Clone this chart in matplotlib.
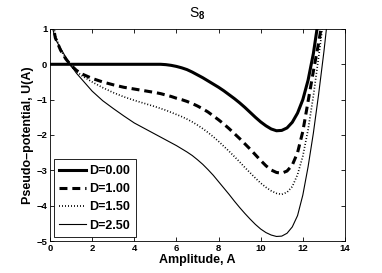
import numpy as np
from matplotlib import pyplot as plt

# Pseudo-potential curves U(A) for several values of D (panel S_8)

amplitude = [0, 0.25, 0.5, 0.75, 1.0, 1.25, 1.5, 2, 2.5, 3, 3.5, 4, 4.5,
             5, 5.25, 5.5, 5.75, 6, 6.25, 6.5, 6.75, 7, 7.25, 7.5, 7.75,
             8, 8.25, 8.5, 8.75, 9, 9.25, 9.5, 9.75, 10, 10.25, 10.5, 10.75,
             11, 11.25, 11.5, 11.75, 12, 12.25, 12.5, 12.75, 13, 13.25]

u_d000 = [0, 0, 0, 0, 0, 0, 0, 0, 0, 0, 0, 0, 0,
          0, 0, -0.01, -0.03, -0.06, -0.1, -0.15, -0.22, -0.3, -0.38, -0.47, -0.56,
          -0.65, -0.75, -0.86, -0.97, -1.09, -1.22, -1.36, -1.5, -1.63, -1.74, -1.83, -1.88,
          -1.87, -1.8, -1.64, -1.38, -1.0, -0.45, 0.3, 1.3, 2.5, 4.0]
u_d100 = [1.6, 0.75, 0.4, 0.15, -0.03, -0.17, -0.27, -0.4, -0.5, -0.58, -0.65, -0.7, -0.75,
          -0.8, -0.83, -0.87, -0.91, -0.96, -1.0, -1.05, -1.11, -1.18, -1.26, -1.35, -1.46,
          -1.57, -1.69, -1.82, -1.96, -2.1, -2.25, -2.4, -2.56, -2.72, -2.87, -2.99, -3.06,
          -3.08, -3.02, -2.85, -2.5, -1.9, -1.05, -0.2, 0.6, 1.5, 2.6]
u_d150 = [1.8, 0.8, 0.42, 0.15, -0.05, -0.2, -0.32, -0.5, -0.66, -0.8, -0.92, -1.02, -1.11,
          -1.2, -1.25, -1.3, -1.36, -1.42, -1.48, -1.55, -1.63, -1.72, -1.82, -1.93, -2.05,
          -2.18, -2.32, -2.46, -2.61, -2.76, -2.92, -3.07, -3.22, -3.36, -3.48, -3.58, -3.65,
          -3.68, -3.62, -3.46, -3.12, -2.6, -1.85, -0.9, 0.2, 1.35, 2.6]
u_d250 = [1.3, 0.72, 0.45, 0.2, -0.04, -0.25, -0.42, -0.76, -1.03, -1.25, -1.46, -1.66, -1.82,
          -1.98, -2.06, -2.14, -2.22, -2.3, -2.39, -2.48, -2.58, -2.7, -2.83, -2.98, -3.14,
          -3.32, -3.5, -3.68, -3.87, -4.05, -4.22, -4.38, -4.53, -4.66, -4.76, -4.83, -4.87,
          -4.86, -4.78, -4.6, -4.28, -3.7, -2.9, -1.95, -0.85, 0.35, 1.7]

labels = ['D=0.00', 'D=1.00', 'D=1.50', 'D=2.50']
x_ticks = [0, 2, 4, 6, 8, 10, 12, 14]
y_ticks = [-5, -4, -3, -2, -1, 0, 1]

plt.rcParams['font.family'] = 'Liberation Sans'
plt.rcParams['font.weight'] = 'bold'
plt.rcParams['mathtext.fontset'] = 'custom'
plt.rcParams['mathtext.rm'] = 'Liberation Sans'
plt.rcParams['mathtext.it'] = 'Liberation Sans'

fig = plt.figure(figsize=(3.82, 2.73), dpi=100)
ax = fig.add_axes([0.131, 0.117, 0.772, 0.777])

ax.plot(amplitude, u_d000, color='k', lw=2.2, label=labels[0])
ax.plot(amplitude, u_d100, color='k', lw=2.2, linestyle=(0, (2.6, 1.6)), label=labels[1])
ax.plot(amplitude, u_d150, color='k', lw=1.2, linestyle=(0, (0.6, 1.2)), label=labels[2])
ax.plot(amplitude, u_d250, color='k', lw=0.8, label=labels[3])

ax.set_xlim(0, 14)
ax.set_ylim(-5, 1)
ax.set_xticks(x_ticks)
ax.set_yticks(y_ticks)
ax.tick_params(direction='in', length=3, width=0.6, labelsize=6.8, top=True, right=True, pad=2)
for lab in ax.get_xticklabels() + ax.get_yticklabels():
    lab.set_fontweight('bold')
for spine in ax.spines.values():
    spine.set_linewidth(0.6)

ax.set_xlabel('Amplitude, A', fontsize=9, fontweight='bold', labelpad=1)
ax.set_ylabel('Pseudo\u2013potential, U(A)', fontsize=9, fontweight='bold', labelpad=2)
ax.set_title('S$_8$', fontsize=10, pad=8)

leg = ax.legend(loc='lower left', bbox_to_anchor=(0.0, 0.0), fontsize=9, handlelength=2.1,
                handletextpad=0.3, borderpad=0.45, labelspacing=0.5, fancybox=False,
                edgecolor='k', framealpha=1, borderaxespad=0.3)
leg.get_frame().set_linewidth(0.6)
for t in leg.get_texts():
    t.set_fontweight('bold')

fig.savefig('out.png', dpi=100)
